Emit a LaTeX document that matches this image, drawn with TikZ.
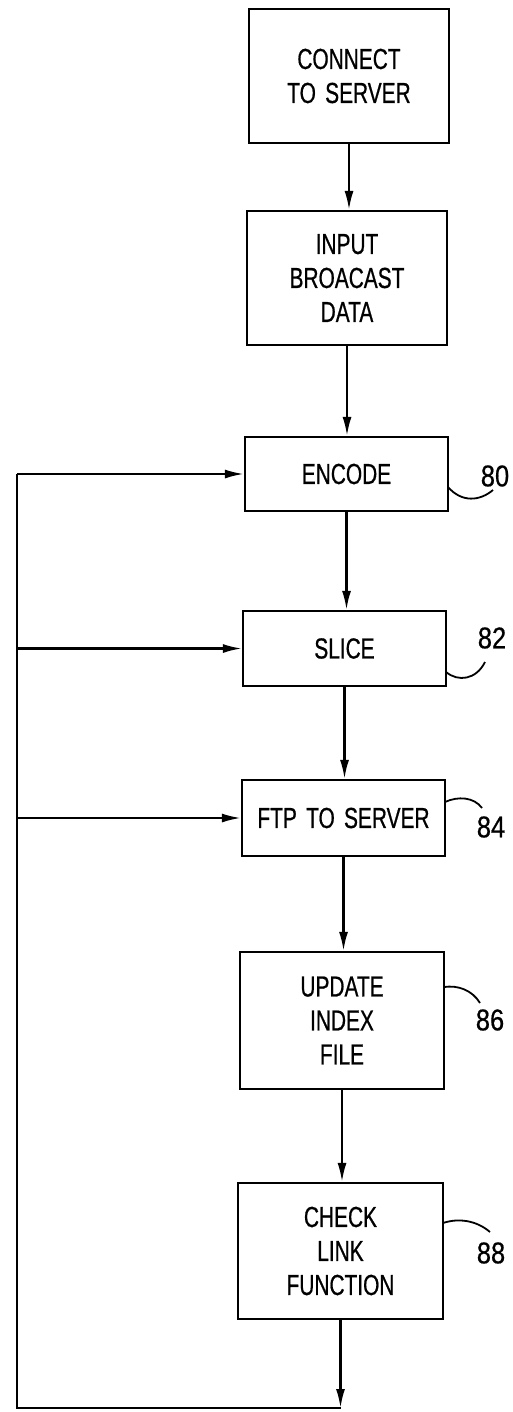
\documentclass[tikz,border=0pt]{standalone}
\usepackage{fontspec}
\setmainfont{Liberation Sans}[FakeStretch=0.72, WordSpace=1.6, FakeBold=0.6]
\newfontfamily\numfont{Liberation Sans}[FakeStretch=0.85, FakeBold=0.6]
\usetikzlibrary{arrows.meta}
\begin{document}
\begin{tikzpicture}[x=1pt,y=-1pt,
  box/.style={draw, line width=2.2pt, align=center, inner sep=0pt,
    font=\fontsize{29}{34}\selectfont},
  flow/.style={line width=2.2pt, -{Latex[length=19pt,width=9pt]}},
  line/.style={line width=2.2pt},
  lead/.style={line width=1.8pt},
  num/.style={font=\numfont\fontsize{30}{34}\selectfont, inner sep=0pt}]
\useasboundingbox (0,0) rectangle (512,1412);

\node[box, minimum width=200pt, minimum height=134pt] (b1) at (349,76) {CONNECT\\TO SERVER};
\node[box, minimum width=200pt, minimum height=134pt] (b2) at (347,278) {INPUT\\BROACAST\\DATA};
\node[box, minimum width=203pt, minimum height=74pt] (enc) at (346.5,474) {ENCODE};
\node[box, minimum width=203pt, minimum height=75pt] (sli) at (344.5,648.5) {SLICE};
\node[box, minimum width=203pt, minimum height=76pt] (ftp) at (343.5,818) {FTP TO SERVER};
\node[box, minimum width=204pt, minimum height=137pt] (upd) at (342,1020.5) {UPDATE\\INDEX\\FILE};
\node[box, minimum width=205pt, minimum height=136pt] (chk) at (340.5,1251) {CHECK\\LINK\\FUNCTION};

\draw[flow] (b1.south) -- (b1.south |- b2.north);
\draw[flow] (b2.south) -- (b2.south |- enc.north);
\draw[flow] (enc.south) -- (enc.south |- sli.north);
\draw[flow] (sli.south) -- (sli.south |- ftp.north);
\draw[flow] (ftp.south) -- (ftp.south |- upd.north);
\draw[flow] (upd.south) -- (upd.south |- chk.north);

\coordinate (cb) at (340.5,1408);
\coordinate (lb) at (17,1408);
\coordinate (lt) at (17,474);
\draw[flow] (chk.south) -- (cb);
\draw[line, line join=miter] (cb) -- (lb) -- (lt);
\draw[flow] (lt) -- (enc.west);
\draw[flow] (lt |- sli.west) -- (sli.west);
\draw[flow] (lt |- ftp.west) -- (ftp.west);

\node[num] (n80) at (495,476) {80};
\node[num] (n82) at (492,638) {82};
\node[num] (n84) at (491,827) {84};
\node[num] (n86) at (490,1020) {86};
\node[num] (n88) at (491,1253) {88};

\draw[lead] (448,487) .. controls (462,503) and (480,501) .. (493,490);
\draw[lead] (446,672) .. controls (458,682) and (476,680) .. (485,662);
\draw[lead] (445,802) .. controls (458,796) and (474,797) .. (482,808);
\draw[lead] (444,987) .. controls (458,985) and (472,990) .. (480,1003);
\draw[lead] (443,1223) .. controls (458,1218) and (476,1220) .. (490,1232);
\end{tikzpicture}
\end{document}
